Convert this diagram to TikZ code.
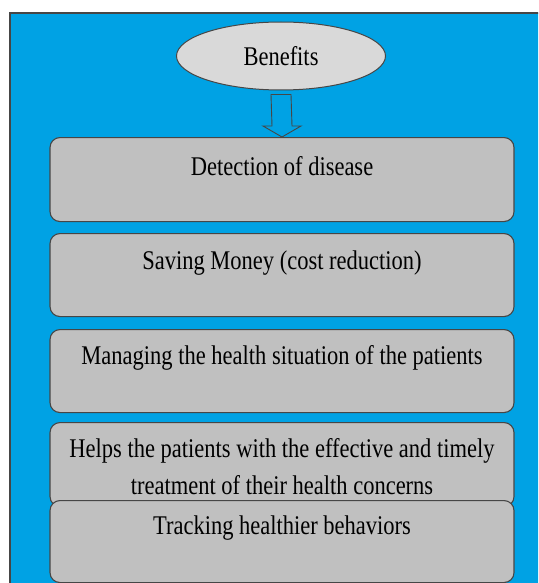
\documentclass[tikz,border=0pt]{standalone}
\usepackage{fontspec}
\setmainfont{Liberation Serif}
\usetikzlibrary{shapes.geometric,calc}
\definecolor{panelblue}{RGB}{0,162,228}
\definecolor{boxgray}{RGB}{192,192,192}
\definecolor{ellgray}{RGB}{217,217,217}
\definecolor{edgegray}{RGB}{70,70,70}
\newcommand{\tallt}[1]{\scalebox{1}[1.2]{#1}}
\begin{document}
\begin{tikzpicture}[x=1pt,y=-1pt,
  benbox/.style={draw=edgegray,line width=1.1pt,fill=boxgray,rounded corners=10pt,
    minimum width=464pt,inner sep=0pt,anchor=north},
  bentext/.style={font=\fontsize{22.5}{25}\selectfont,inner sep=0pt},
  benell/.style={ellipse,draw=edgegray,line width=1pt,fill=ellgray,minimum width=209pt,
    minimum height=68pt,inner sep=0pt,font=\fontsize{22.5}{25}\selectfont}]
\useasboundingbox (0,0) rectangle (538,583);
\fill[white] (0,0) rectangle (538,583);
\begin{scope}
\clip (0,0) rectangle (538,583);
\draw[edgegray,line width=1.2pt,fill=panelblue] (10,13) rectangle (560,600);
\end{scope}
\node[benell] (ben) at (281,56) {\tallt{Benefits}};
% boxes
\node[benbox,minimum height=84pt] (d1) at (282,137) {};
\node[benbox,minimum height=83pt] (d2) at (282,233) {};
\node[benbox,minimum height=83pt] (d3) at (282,329) {};
\node[benbox,minimum height=84pt] (d4) at (282,422) {};
\node[benbox,minimum height=82pt] (d5) at (282,500) {};
\node[bentext] (t1) at (282,166) {\tallt{Detection of disease}};
\node[bentext] (t2) at (282,263) {\tallt{Saving Money (cost reduction)}};
\node[bentext] (t3) at (282,358) {\tallt{Managing the health situation of the patients}};
\node[bentext] (t4) at (282,470) {\tallt{\begin{tabular}{@{}c@{}}Helps the patients with the effective and timely\\[6pt]treatment of their health concerns\end{tabular}}};
\node[bentext] (t5) at (282,528) {\tallt{Tracking healthier behaviors}};
% hollow block arrow
\draw[edgegray,line width=0.9pt,fill=panelblue]
  ($(ben.south)+(-10,4)$) -- ($(ben.south)+(10,4)$) -- ($(d1.north)+(10,-11)$)
  -- ($(d1.north)+(19,-11)$) -- (d1.north) -- ($(d1.north)+(-19,-11)$)
  -- ($(d1.north)+(-10,-11)$) -- cycle;
\end{tikzpicture}
\end{document}
